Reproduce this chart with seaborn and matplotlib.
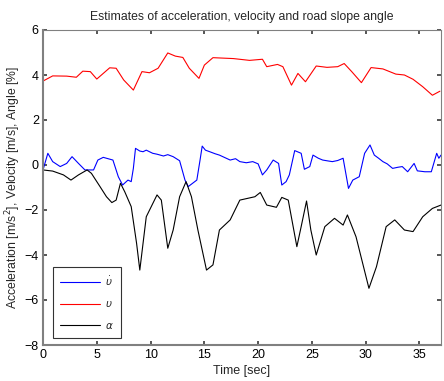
import numpy as np
import pandas as pd
import matplotlib
matplotlib.use("Agg")
import matplotlib.pyplot as plt
import seaborn as sns

# Acceleration estimate (blue)
acc_t = [0, 0.45, 0.9, 1.6, 2.2, 2.7, 3.3, 3.9, 4.7, 5.1, 5.6, 6.5, 7.0, 7.4, 7.9, 8.2, 8.4, 8.6,
         9.0, 9.3, 9.6, 10.2, 10.6, 11.2, 11.6, 12.1, 12.7, 13.2, 13.5, 14.3, 14.6, 14.8, 15.1, 15.5,
         16.0, 16.4, 16.9, 17.4, 17.9, 18.3, 18.9, 19.5, 20.0, 20.4, 20.8, 21.4, 21.9, 22.2, 22.6,
         22.9, 23.4, 24.0, 24.3, 24.8, 25.1, 25.6, 26.0, 26.5, 26.9, 27.4, 27.9, 28.4, 28.8, 29.4,
         29.9, 30.4, 30.8, 31.2, 31.6, 32.0, 32.5, 33.0, 33.4, 33.9, 34.5, 34.8, 35.5, 36.1, 36.6,
         36.8, 37.0]
acc_v = [-0.22, 0.52, 0.15, -0.07, 0.07, 0.37, 0.07, -0.22, -0.22, 0.22, 0.34, 0.22, -0.52, -0.89,
         -0.67, -0.74, -0.15, 0.74, 0.62, 0.59, 0.66, 0.52, 0.48, 0.40, 0.46, 0.37, 0.19, -0.67,
         -0.96, -0.67, 0.22, 0.84, 0.66, 0.59, 0.50, 0.44, 0.33, 0.22, 0.28, 0.15, 0.10, 0.15, 0.05,
         -0.44, -0.22, 0.22, 0.07, -0.89, -0.74, -0.44, 0.64, 0.52, -0.19, -0.07, 0.44, 0.30, 0.22,
         0.18, 0.15, 0.20, 0.30, -1.04, -0.67, -0.52, 0.52, 0.89, 0.44, 0.30, 0.15, 0.05, -0.15,
         -0.10, -0.07, -0.30, 0.07, -0.26, -0.30, -0.30, 0.52, 0.30, 0.44]

# Velocity estimate (red)
vel_t = [0, 0.9, 2.2, 3.1, 3.7, 4.4, 5.0, 6.2, 6.8, 7.5, 8.4, 9.2, 9.9, 10.7, 11.6, 12.3, 13.0,
         13.6, 14.5, 15.0, 15.8, 17.7, 19.2, 20.4, 20.8, 21.8, 22.3, 23.1, 23.7, 24.4, 25.4, 26.4,
         27.4, 28.0, 28.7, 29.6, 30.5, 31.6, 32.8, 33.6, 34.4, 35.3, 36.2, 36.9]
vel_v = [3.73, 3.96, 3.95, 3.90, 4.17, 4.15, 3.82, 4.32, 4.30, 3.78, 3.33, 4.15, 4.10, 4.30, 4.98,
         4.84, 4.78, 4.30, 3.85, 4.44, 4.77, 4.73, 4.65, 4.70, 4.37, 4.47, 4.37, 3.55, 4.07, 3.70,
         4.40, 4.34, 4.37, 4.51, 4.15, 3.66, 4.33, 4.27, 4.04, 4.00, 3.81, 3.48, 3.10, 3.28]

# Road slope angle estimate (black)
ang_t = [0, 0.9, 1.9, 2.6, 3.3, 4.1, 4.5, 5.3, 5.9, 6.4, 6.8, 7.2, 7.6, 8.2, 8.7, 9.0, 9.6, 10.6,
         11.0, 11.6, 12.1, 12.7, 13.3, 13.8, 14.4, 15.2, 15.8, 16.4, 17.4, 18.3, 19.7, 20.2, 20.8,
         21.7, 22.2, 22.8, 23.6, 24.0, 24.5, 24.9, 25.4, 26.2, 27.1, 27.9, 28.3, 29.1, 30.3, 31.0,
         31.9, 32.7, 33.6, 34.4, 35.3, 36.2, 37.0]
ang_v = [-0.22, -0.27, -0.44, -0.67, -0.44, -0.22, -0.37, -0.96, -1.41, -1.67, -1.56, -0.81,
         -1.19, -1.85, -3.48, -4.67, -2.30, -1.33, -1.56, -3.70, -2.89, -1.41, -0.74, -1.41, -2.89,
         -4.67, -4.44, -2.89, -2.44, -1.56, -1.41, -1.22, -1.78, -1.88, -1.44, -1.56, -3.63, -2.74,
         -1.60, -2.89, -4.00, -2.74, -2.37, -2.67, -2.22, -3.19, -5.48, -4.52, -2.74, -2.44, -2.89,
         -2.96, -2.30, -1.93, -1.78]

labels = [r"$\dot{\upsilon}$", r"$\upsilon$", r"$\alpha$"]
colors = ["#0000ff", "#ff0000", "#000000"]

sns.set_theme(style="white")
plt.rcParams['font.family'] = ['Liberation Sans', 'DejaVu Sans']

fig = plt.figure(figsize=(4.44, 3.81), dpi=100)
ax = fig.add_axes([43/444, 1 - 345/381, 398/444, 315/381])

for (t, v), lab, c in zip([(acc_t, acc_v), (vel_t, vel_v), (ang_t, ang_v)], labels, colors):
    df = pd.DataFrame({"t": t, "v": v})
    sns.lineplot(data=df, x="t", y="v", ax=ax, color=c, linewidth=0.8, label=lab,
                 sort=False, estimator=None)

ax.set_xlim(0, 37)
ax.set_ylim(-8, 6)
ax.set_xticks(range(0, 36, 5))
ax.set_yticks(range(-8, 7, 2))
ax.tick_params(direction="in", length=3, labelsize=9, top=True, right=True,
               bottom=True, left=True, pad=3, colors="#404040", labelcolor="black")
for s in ax.spines.values():
    s.set_color("#808080")
    s.set_linewidth(0.8)
ax.spines['left'].set_linewidth(1.5)
ax.spines['bottom'].set_linewidth(1.5)
ax.set_xlabel("Time [sec]", fontsize=9, labelpad=3)
ax.set_ylabel(r"Acceleration [m/s$^2$], Velocity [m/s], Angle [%]", fontsize=8.8, labelpad=1)
ax.set_title("Estimates of acceleration, velocity and road slope angle", fontsize=8.8, pad=7)

leg = ax.legend(loc="lower left", bbox_to_anchor=(0.025, 0.022), fontsize=7.5, frameon=True,
                fancybox=False, edgecolor="black", borderpad=0.7, labelspacing=1.1,
                handlelength=3.8, handletextpad=0.5, borderaxespad=0)
leg.get_frame().set_linewidth(0.8)

fig.savefig("out.png", dpi=100)
